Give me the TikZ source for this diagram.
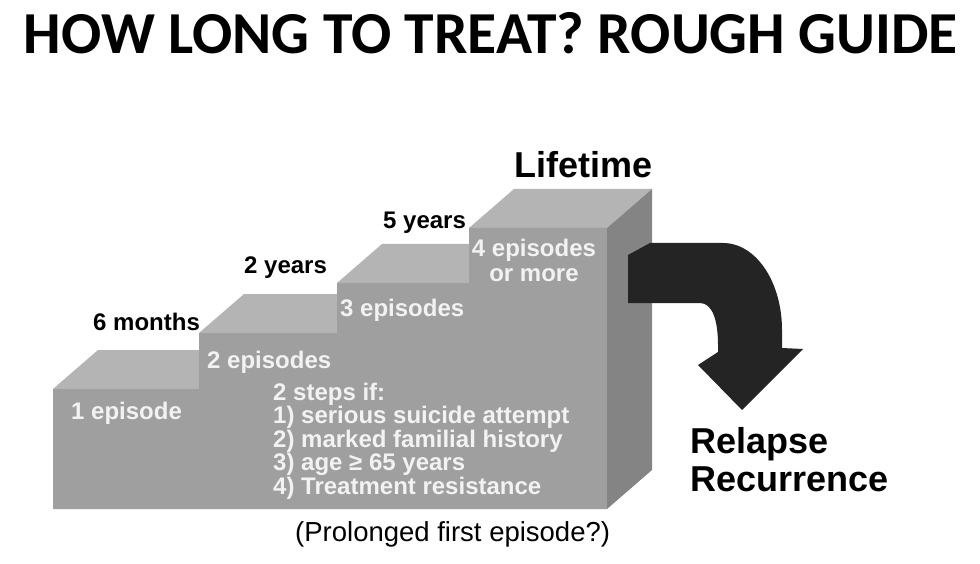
\documentclass[tikz,border=0pt]{standalone}
\usepackage{fontspec}
\setmainfont{Liberation Sans}
\newfontfamily\titlefont{Carlito}
\usetikzlibrary{positioning,calc}
\definecolor{StepFront}{RGB}{159,159,159}
\definecolor{StepTop}{RGB}{180,180,180}
\definecolor{StepSide}{RGB}{132,132,132}
\definecolor{ArrowDark}{RGB}{36,36,36}
\definecolor{StepText}{RGB}{242,242,242}
\tikzset{face/.style={draw=none}, ontxt/.style={text=StepText,font=\bfseries\fontsize{24}{21.5}\selectfont,inner sep=0pt,anchor=base west}, overtxt/.style={text=black,font=\bfseries\fontsize{24}{22}\selectfont,inner sep=0pt,anchor=base west}, bigtxt/.style={text=black,font=\bfseries\fontsize{36}{38}\selectfont,inner sep=0pt,anchor=base west}}

\begin{document}
\begin{tikzpicture}[x=1pt,y=-1pt]
\useasboundingbox[fill=white] (0,0) rectangle (980,564);
% front face corners
\coordinate (fa) at (53,509);
\coordinate (fb) at (607,509);
\coordinate (fc) at (607,228);
\coordinate (s4) at (469,228);
\coordinate (s3a) at (469,283);
\coordinate (s3) at (337,283);
\coordinate (s2a) at (337,333);
\coordinate (s2) at (199,333);
\coordinate (s1a) at (199,389);
\coordinate (s1) at (53,389);
% treads
\fill[StepTop] (s1) -- (s1a) -- ++(45,-39) -- ($(s1)+(45,-39)$) -- cycle;
\fill[StepTop] (s2) -- (s2a) -- ++(45,-39) -- ($(s2)+(45,-39)$) -- cycle;
\fill[StepTop] (s3) -- (s3a) -- ++(45,-39) -- ($(s3)+(45,-39)$) -- cycle;
\fill[StepTop] (s4) -- (fc) -- ++(45,-39) -- ($(s4)+(45,-39)$) -- cycle;
% front and side
\fill[StepFront] (fa) -- (fb) -- (fc) -- (s4) -- (s3a) -- (s3) -- (s2a) -- (s2) -- (s1a) -- (s1) -- cycle;
\fill[StepSide] (fb) -- ++(45,-39) -- ($(fc)+(45,-39)$) -- (fc) -- cycle;
% arrow out of the top step
\fill[ArrowDark] (628,255) -- (650,243) -- (723,243) .. controls (756,243) and (782,282) .. (782,330) -- (782,348) -- (803,349) -- (742,410) -- (698,365) -- (718,352) -- (718,345) .. controls (718,322) and (713,303) .. (700,303) -- (628,303) -- cycle;
% labels
\node[font=\titlefont\bfseries\fontsize{59.5}{62}\selectfont,inner sep=0pt,anchor=base] (title) at (491,54) {HOW LONG TO TREAT? ROUGH GUIDE};
\node[overtxt] (m6) at (93,330) {6 months};
\node[overtxt] (y2) at (244,273) {2 years};
\node[overtxt] (y5) at (383,229) {5 years};
\node[bigtxt] (life) at (514,178) {Lifetime};
\node[ontxt] (ep1) at (71,419) {1 episode};
\node[ontxt] (ep2) at (207,368) {2 episodes};
\node[ontxt] (ep3) at (340,316) {3 episodes};
\node[ontxt,font=\bfseries\fontsize{24}{24.5}\selectfont,anchor=base,align=center] (ep4) at (534,281) {4 episodes\\or more};
\node[ontxt,align=left] (twostep) at (273,494) {2 steps if:\\1) serious suicide attempt\\2) marked familial history\\3) age ≥ 65 years\\4) Treatment resistance};
\node[text=black,font=\fontsize{27.5}{30}\selectfont,inner sep=0pt,anchor=base west] (prolong) at (295,541) {(Prolonged first episode?)};
\node[bigtxt] (relapse) at (690,453) {Relapse};
\node[bigtxt] (recur) at (690,491) {Recurrence};
\end{tikzpicture}
\end{document}
